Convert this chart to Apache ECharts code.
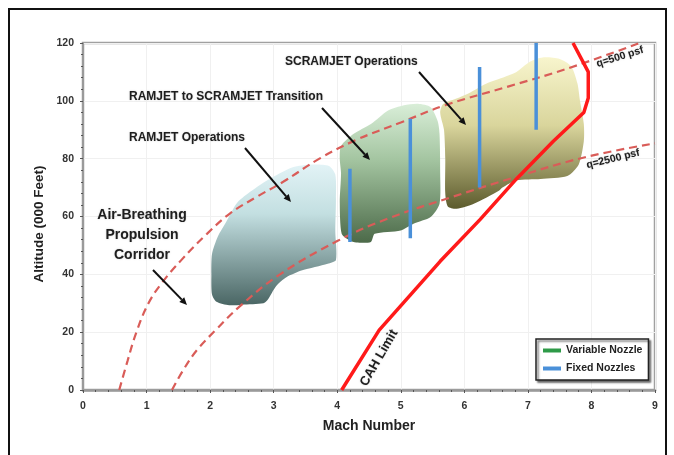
<!DOCTYPE html>
<html><head><meta charset="utf-8">
<script src="https://cdn.jsdelivr.net/npm/echarts@6.0.0/dist/echarts.min.js"></script>
<style>html,body{margin:0;padding:0;background:#fff;}#c{width:674px;height:455px;}</style>
</head><body><div id="c"></div>
<script>
// ---- data (Mach, altitude in 000 ft) ----
const xTicks = [0,1,2,3,4,5,6,7,8,9];
const yTicks = [0,20,40,60,80,100,120];
const q500 = [[0.57,0],[0.70,10],[0.84,20],[1.03,30],[1.24,37],[1.55,45],[1.95,54],[2.31,61],[2.75,67],[3.15,72],[3.72,80],[4.3,86.5],[5.0,92.5],[5.7,98.5],[6.7,105],[7.6,111],[8.76,120]];
const q2500 = [[1.40,0],[1.58,7],[1.80,14],[2.1,21],[2.47,29],[3.1,40],[4.0,51.5],[4.8,59.3],[5.8,66.7],[6.8,73.6],[7.9,80.5],[9.0,85.3]];
const cahLimit = [[4.07,0],[4.66,20.7],[5.62,44.5],[6.25,59],[6.82,73],[7.4,86],[7.88,96],[7.95,101],[7.95,110],[7.71,120]];
const ramjetBlob = [[2.03,33],[2.02,40],[2.03,47],[2.12,53],[2.25,58],[2.42,64.6],[2.6,68],[2.9,72.5],[3.3,77],[3.6,78],[3.87,77.5],[3.97,74.5],[3.98,66],[3.97,55],[3.98,45],[3.85,43.7],[3.45,41.4],[3.2,39],[3.04,36],[2.9,31],[2.84,30],[2.5,29.5],[2.3,29.3],[2.1,30.5]];
const transitionBlob = [[4.06,84.4],[4.26,88.6],[4.53,92],[4.8,96.7],[5.05,98.5],[5.27,99],[5.47,97.8],[5.58,93],[5.61,88.6],[5.62,75],[5.61,64.4],[5.47,59.8],[5.2,57.5],[5.0,55.2],[4.59,54],[4.53,51.2],[4.3,51],[4.19,51.8],[4.07,54],[4.04,65],[4.06,75],[4.04,80]];
const scramjetBlob = [[5.67,99],[5.9,101],[6.1,103],[6.35,106],[6.6,108],[6.82,110],[7.03,113.5],[7.23,115],[7.5,114.5],[7.68,112],[7.78,106],[7.82,100],[7.88,92],[7.88,86],[7.8,78],[7.62,74],[7.2,73],[6.82,72.5],[6.6,70],[6.55,69],[6.15,64.4],[5.88,62.7],[5.74,63.5],[5.7,68],[5.7,80],[5.68,90],[5.62,96]];
const fixedNozzles = [[[4.2,51.2],[4.2,76.5]],[[5.15,52.5],[5.15,93.8]],[[6.24,70],[6.24,111.7]],[[7.13,90],[7.13,120]]];
const variableNozzle = [];

const FONT = '"Liberation Sans", Arial, sans-serif';
const chart = echarts.init(document.getElementById('c'));

function blob(name, pts, stops){
  return {
    type:'custom', name, silent:true, z:1,
    data:[[pts[0][0], pts[0][1]]],
    renderItem(params, api){
      const points = pts.map(p => api.coord(p));
      return {type:'polygon', shape:{points, smooth:0.25},
        style:{fill:new echarts.graphic.LinearGradient(0,0,0,1,stops)}};
    }
  };
}
function arrow(x1,y1,x2,y2){
  const a=Math.atan2(y2-y1,x2-x1), L=7.5, W=3.4;
  const bx=x2-L*Math.cos(a), by=y2-L*Math.sin(a);
  return [
    {type:'line', z:100, shape:{x1,y1,x2:bx,y2:by}, style:{stroke:'#111', lineWidth:2}},
    {type:'polygon', z:100, shape:{points:[[x2,y2],[bx-W*Math.sin(a),by+W*Math.cos(a)],[bx+W*Math.sin(a),by-W*Math.cos(a)]]}, style:{fill:'#111'}}
  ];
}
function label(text,x,y,size,align,rot){
  return {type:'text', z:100, x, y, rotation:rot||0,
    style:{text, x:0, y:0, fill:'#1e1e1e', font:'bold '+size+'px '+FONT,
      textAlign:align||'left', textVerticalAlign:'middle',
      textShadowColor:'rgba(0,0,0,0.25)', textShadowBlur:1.5}};
}

const series = [
  blob('ramjet', ramjetBlob, [{offset:0,color:'#e2f3f6'},{offset:0.35,color:'#c3dfe1'},{offset:1,color:'#4a6664'}]),
  blob('transition', transitionBlob, [{offset:0,color:'#d9eed8'},{offset:0.4,color:'#a4c5a1'},{offset:1,color:'#4c6a49'}]),
  blob('scramjet', scramjetBlob, [{offset:0,color:'#f8f5cd'},{offset:0.45,color:'#d9d59c'},{offset:1,color:'#5c5b2d'}]),
  {type:'line', name:'q500', data:q500, smooth:0.4, showSymbol:false, silent:true, z:3,
    lineStyle:{color:'#d95c58', width:2.2, type:[8,5]}},
  {type:'line', name:'q2500', data:q2500, smooth:0.4, showSymbol:false, silent:true, z:3,
    lineStyle:{color:'#d95c58', width:2.2, type:[8,5]}},
  {type:'line', name:'CAH Limit', data:cahLimit, showSymbol:false, silent:true, z:4,
    lineStyle:{color:'#ff1a1a', width:3.5}},
  {type:'line', name:'Variable Nozzle', data:variableNozzle, showSymbol:false, color:'#2e9a48',
    lineStyle:{color:'#2e9a48', width:3.5}}
];
fixedNozzles.forEach(seg => series.push({type:'line', name:'Fixed Nozzles', data:seg, showSymbol:false, silent:true, z:5,
  color:'#4a90d9', lineStyle:{color:'#4a90d9', width:3.5}}));

const graphics = [
  {type:'rect', z:0, shape:{x:9,y:9,width:657,height:470}, style:{fill:'none', stroke:'#111', lineWidth:2}},
  {type:'text', z:100, x:39, y:224, rotation:Math.PI/2,
    style:{text:'Altitude (000 Feet)', x:0, y:0, fill:'#222', font:'bold 13.5px '+FONT, textAlign:'center', textVerticalAlign:'middle'}},
  label('SCRAMJET Operations',285,62,12),
  label('RAMJET to SCRAMJET Transition',129,97,12),
  label('RAMJET Operations',129,138,12),
  label('Air-Breathing',142,215,14,'center'),
  label('Propulsion',142,235,14,'center'),
  label('Corridor',142,255,14,'center'),
  label('CAH Limit',379,358,13,'center',Math.PI/3),
  label('q=500 psf',620,57,10.5,'center',0.3),
  label('q=2500 psf',613,159,10.5,'center',0.24),
  ...arrow(419,72,466,125),
  ...arrow(322,108,370,160),
  ...arrow(245,148,291,202),
  ...arrow(153,270,187,305)
];

const axisLbl = {fontSize:10.5, fontWeight:'bold', color:'#333', fontFamily:FONT};
chart.setOption({
  animation:false,
  grid:{left:83, right:19, top:43, bottom:65, show:true, borderColor:'#a0a0a0', borderWidth:2.5, backgroundColor:'transparent'},
  xAxis:{type:'value', min:0, max:9, interval:1,
    name:'Mach Number', nameLocation:'middle', nameGap:29,
    nameTextStyle:{fontSize:14, fontWeight:'bold', color:'#222', fontFamily:FONT},
    axisLine:{lineStyle:{color:'#9a9a9a', width:2.5}},
    axisTick:{show:true, length:3, lineStyle:{color:'#555'}},
    minorTick:{show:true, splitNumber:5, length:2, lineStyle:{color:'#555'}},
    axisLabel:{...axisLbl, margin:11, formatter:v=>xTicks.includes(v)?String(v):''},
    splitLine:{show:true, lineStyle:{color:'#f0f0f0'}}},
  yAxis:{type:'value', min:0, max:120, interval:20,
    axisLine:{lineStyle:{color:'#9a9a9a', width:2}},
    axisTick:{show:true, length:3, lineStyle:{color:'#555'}},
    minorTick:{show:true, splitNumber:5, length:2, lineStyle:{color:'#555'}},
    axisLabel:{...axisLbl, margin:9, formatter:v=>yTicks.includes(v)?String(v):''},
    splitLine:{show:true, lineStyle:{color:'#f0f0f0'}}},
  legend:{data:[{name:'Variable Nozzle', icon:'rect'},{name:'Fixed Nozzles', icon:'rect'}],
    orient:'vertical', left:536, top:339, itemWidth:18, itemHeight:4, itemGap:7,
    selectedMode:false, backgroundColor:'#fff', borderColor:'#222', borderWidth:1.5,
    padding:[6,6,6,7], shadowColor:'rgba(0,0,0,0.55)', shadowBlur:2, shadowOffsetX:2, shadowOffsetY:2,
    textStyle:{fontSize:10.5, fontWeight:'bold', color:'#222', fontFamily:FONT}},
  graphic:graphics,
  series
});
</script></body></html>
